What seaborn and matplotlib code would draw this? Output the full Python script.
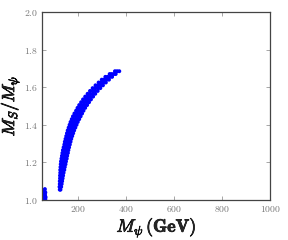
import matplotlib
matplotlib.use("Agg")
import matplotlib.pyplot as plt
import matplotlib.patheffects as pe
import seaborn as sns
import pandas as pd

# Band of allowed points:
# each ratio level M_S/M_psi with the M_psi values (GeV) seen on that row
band_ratio = [1.055, 1.070, 1.085, 1.100, 1.115, 1.130, 1.145, 1.160, 1.175,
              1.190, 1.205, 1.220, 1.235, 1.250, 1.265, 1.280, 1.295, 1.310,
              1.325, 1.340, 1.355, 1.370, 1.385, 1.400, 1.415, 1.430, 1.445,
              1.460, 1.475, 1.490, 1.505, 1.520, 1.535, 1.550, 1.565, 1.580,
              1.595, 1.610, 1.625, 1.640, 1.655, 1.670, 1.685]
band_mpsi = [
    [122, 125], [121, 124, 128], [122, 126, 130], [122, 126, 129, 132],
    [123, 127, 131, 134], [123, 127, 132, 136], [124, 129, 134, 138],
    [124, 129, 135, 141], [125, 131, 137, 143], [126, 132, 139, 146],
    [127, 134, 141, 148], [129, 136, 144, 151], [131, 138, 146, 153],
    [133, 141, 149, 156], [135, 143, 151, 158], [138, 146, 154, 161],
    [141, 149, 157, 164], [143, 151, 159, 167], [146, 154, 162, 170],
    [149, 157, 166, 174], [152, 161, 170, 178], [155, 164, 173, 182],
    [159, 169, 178, 187], [163, 173, 183, 192], [167, 177, 187, 197],
    [172, 182, 193, 203], [177, 188, 199, 209], [183, 194, 205, 215],
    [190, 200, 211, 221], [196, 207, 218, 228], [203, 214, 225, 236],
    [211, 222, 233, 244], [219, 230, 241, 252], [228, 239, 250, 261],
    [238, 249, 260, 270], [248, 259, 270, 280], [259, 270, 281, 291],
    [271, 282, 292, 302], [284, 294, 304, 314], [297, 307, 317, 327],
    [312, 321, 331, 340], [330, 338, 347, 355], [352, 361, 370],
]
# Small cluster near the left edge
low_mpsi = [56, 59, 62, 57, 60, 63, 58, 61, 56, 59, 62, 58, 60]
low_ratio = [1.005, 1.005, 1.005, 1.015, 1.015, 1.015, 1.025, 1.025,
             1.035, 1.035, 1.040, 1.050, 1.058]

x_ticks = [200, 400, 600, 800, 1000]
y_ticks = [1.0, 1.2, 1.4, 1.6, 1.8, 2.0]

rows = []
for r, xs in zip(band_ratio, band_mpsi):
    for x in xs:
        rows.append((x, r))
for x, r in zip(low_mpsi, low_ratio):
    rows.append((x, r))
df = pd.DataFrame(rows, columns=["m", "r"])

sns.set_theme(style="white")
plt.rcParams["mathtext.fontset"] = "cm"
plt.rcParams["font.family"] = ["DejaVu Serif"]

fig = plt.figure(figsize=(2.88, 2.4), dpi=100)
ax = fig.add_axes([0.1475, 0.1667, 0.7917, 0.7833])

sns.scatterplot(data=df, x="m", y="r", ax=ax, color="#0000ff", s=8,
                edgecolor="none", linewidth=0, legend=False)

ax.set_xlim(50, 1000)
ax.set_ylim(1.0, 2.0)
ax.set_xticks(x_ticks)
ax.set_yticks(y_ticks)
ax.set_xticklabels([f"${v}$" for v in x_ticks])
ax.set_yticklabels([f"${v:.1f}$" for v in y_ticks])
ax.tick_params(direction="in", length=3, width=0.6, colors="#999999",
               labelsize=7, labelcolor="#777777", top=True, right=True,
               bottom=True, left=True, pad=3)
for s in ax.spines.values():
    s.set_visible(True)
    s.set_color("#444444")
    s.set_linewidth(0.9)

xl = ax.set_xlabel(r"$M_\psi\,\mathbf{(GeV)}$", fontsize=13, labelpad=1)
xl.set_path_effects([pe.withStroke(linewidth=0.5, foreground="black")])
yl = ax.set_ylabel(r"$M_S/M_\psi$", fontsize=12.5)
yl.set_path_effects([pe.withStroke(linewidth=0.6, foreground="black")])
ax.yaxis.set_label_coords(-0.09, 0.5)

fig.savefig("out.png", dpi=100)
